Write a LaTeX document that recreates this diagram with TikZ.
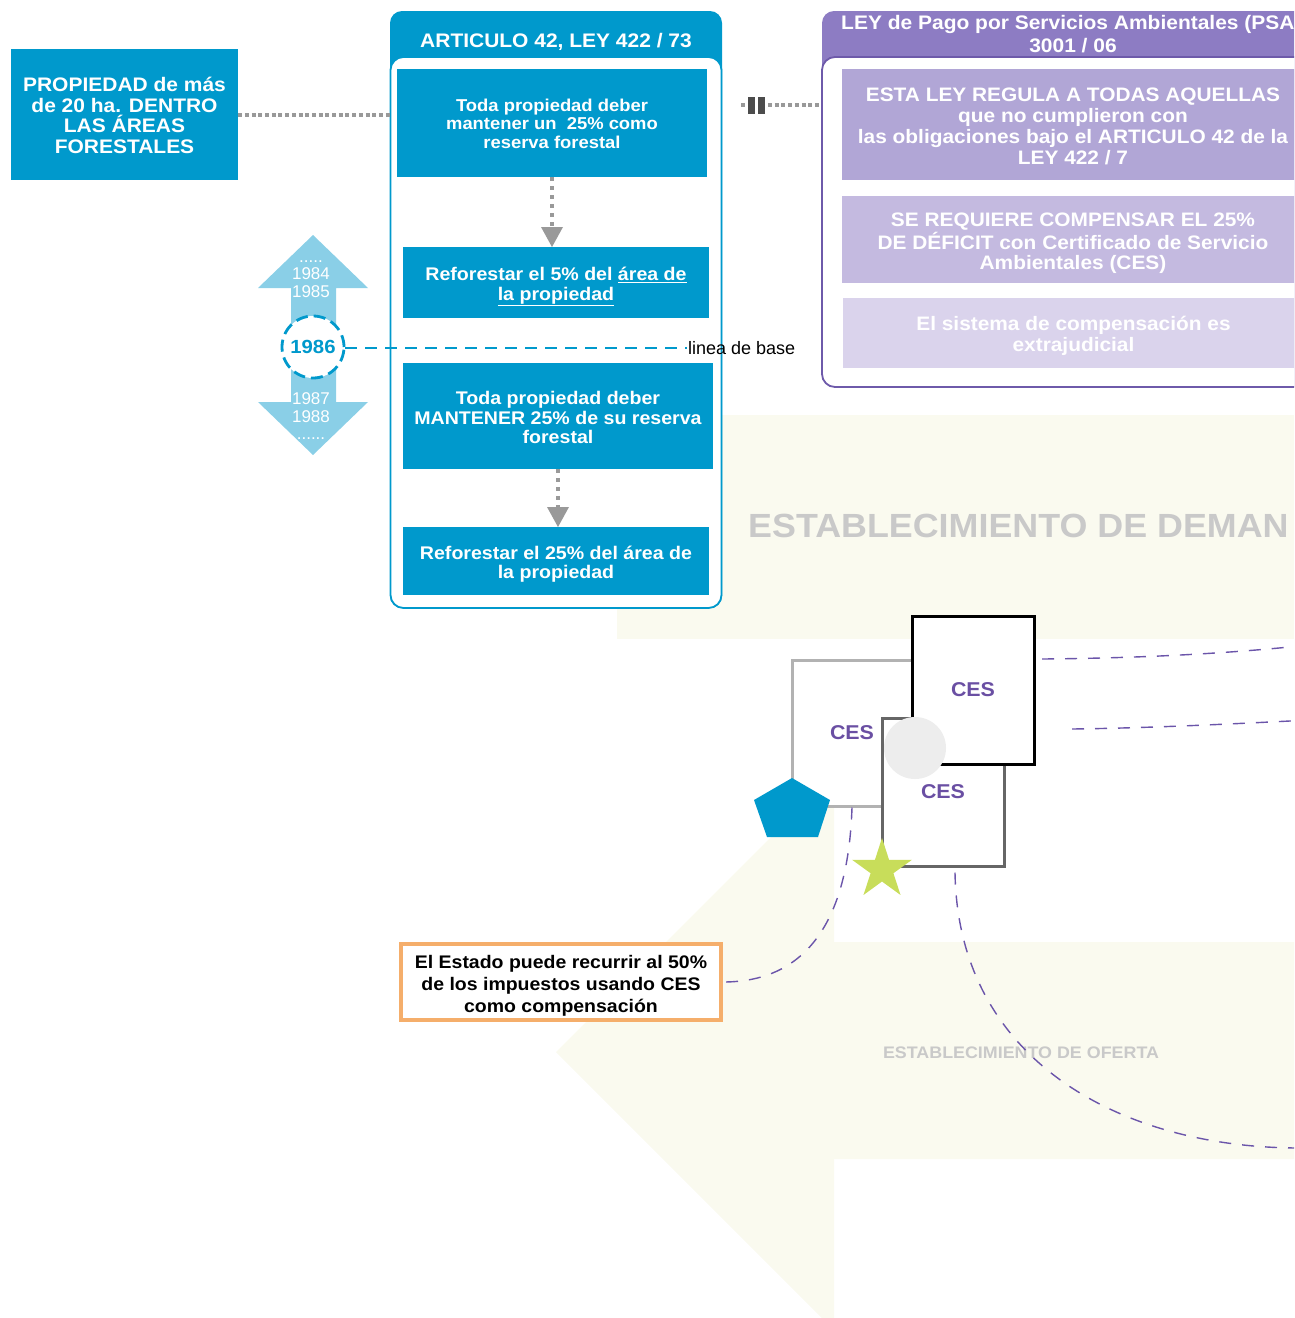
\documentclass[tikz,border=0pt]{standalone}
\usepackage{fontspec}
\setmainfont{Liberation Sans}[BoldFeatures={FakeStretch=1.07}]
\usetikzlibrary{calc}
\definecolor{bl}{HTML}{0099CC}
\definecolor{lbl}{HTML}{8ACFE7}
\definecolor{pu}{HTML}{8D7CC3}
\definecolor{pu1}{HTML}{B1A6D6}
\definecolor{pu2}{HTML}{C4BAE0}
\definecolor{pu3}{HTML}{DAD3EC}
\definecolor{puline}{HTML}{6E5AAA}
\definecolor{dashpu}{HTML}{6B55AA}
\definecolor{cream}{HTML}{FAFAEF}
\definecolor{cestxt}{HTML}{6A4FA3}
\definecolor{org}{HTML}{F5AE6B}
\definecolor{starc}{HTML}{C8DD5A}
\definecolor{dotgray}{HTML}{999999}
\definecolor{txtgray}{HTML}{C9C9C9}
\definecolor{circgray}{HTML}{EDEDED}
\newcommand\myfs[2]{\fontsize{#1}{#2}\selectfont}
\begin{document}
\begin{tikzpicture}[x=1pt,y=-1pt,
  bluebox/.style={fill=bl, inner sep=0pt},
  wtxt/.style={text=white, align=center, inner sep=0pt},
  pubox/.style={inner sep=0pt},
  putxt/.style={text=white, align=center, inner sep=0pt, font=\myfs{19.5}{21}\bfseries},
  yr/.style={text=white, inner sep=0pt, font=\myfs{17}{17}},
  dotline/.style={draw=dotgray, line width=4pt, dash pattern=on 4pt off 2.7pt},
  dotv/.style={draw=dotgray, line width=3.5pt, dash pattern=on 3.5pt off 5.5pt},
  pudash/.style={draw=dashpu, line width=1.4pt, dash pattern=on 12pt off 11pt},
  cesbox/.style={fill=white, line width=3pt, inner sep=0pt, text=cestxt, font=\myfs{20}{20}\bfseries}
]
\useasboundingbox (0,0) rectangle (1294,1318);
\clip (0,0) rectangle (1294,1318);

% background cream shapes
\fill[cream] (617,415) rectangle (1294,639);
\fill[cream] (556,1052) -- (834,774) -- (834,942) -- (1300,942) -- (1300,1159) -- (834,1159) -- (834,1330) -- cycle;
\node[anchor=base west, inner sep=0pt, text=txtgray, font=\myfs{33.5}{36}\bfseries] (dem) at (748,537) {ESTABLECIMIENTO DE DEMAN};
\node[anchor=base, inner sep=0pt, text=txtgray, font=\myfs{16.7}{18}\bfseries] (ofe) at (1021,1058) {ESTABLECIMIENTO DE OFERTA};

% left property box
\node[bluebox, minimum width=227pt, minimum height=131pt] (prop) at (124.5,114.5) {};
\node[wtxt, font=\myfs{19.6}{20.7}\bfseries] (propt) at (124.5,115.5)
  {PROPIEDAD de más\\de 20 ha. DENTRO\\LAS ÁREAS\\FORESTALES};

% article container
\node[fill=bl, rounded corners=12pt, minimum width=332pt, minimum height=597pt, inner sep=0pt] (art) at (556,309.5) {};
\node[fill=white, draw=bl, line width=1.8pt, rounded corners=13pt, minimum width=331pt, minimum height=551pt, inner sep=0pt] (artin) at (556,332.5) {};
\node[text=white, inner sep=0pt, font=\myfs{19.6}{20}\bfseries] (artt) at (556,42) {ARTICULO 42, LEY 422 / 73};

\node[bluebox, minimum width=310pt, minimum height=108pt] (ba) at (552,123) {};
\node[wtxt, font=\myfs{17.2}{18.5}\bfseries] (bat) at (552,123.5)
  {Toda propiedad deber\\mantener un\ \ 25\% como\\reserva forestal};
\node[bluebox, minimum width=306pt, minimum height=71pt] (bb) at (556,282.5) {};
\node[wtxt, font=\myfs{18.3}{20}\bfseries] (bbt) at (556,286.5)
  {Reforestar el 5\% del \underline{área de}\\\underline{la propiedad}};
\node[bluebox, minimum width=310pt, minimum height=106pt] (bc) at (558,416) {};
\node[wtxt, font=\myfs{18.3}{19.5}\bfseries] (bct) at (558,417.5)
  {Toda propiedad deber\\MANTENER 25\% de su reserva\\forestal};
\node[bluebox, minimum width=306pt, minimum height=68pt] (bd) at (556,561) {};
\node[wtxt, font=\myfs{18.3}{19.5}\bfseries] (bdt) at (556,564)
  {Reforestar el 25\% del área de\\la propiedad};

% dotted arrows inside article
\draw[dotv] (ba.south -| 552,0) -- (552,227);
\fill[dotgray] (552,247) -- (541,227) -- (563,227) -- cycle;
\draw[dotv] (bc.south -| 558,0) -- (558,507);
\fill[dotgray] (558,527) -- (547,507) -- (569,507) -- cycle;

% dotted connector property -> article
\draw[dotline] (prop.east) -- (prop.east -| art.west);

% double arrow with years
\fill[lbl] (313,235) -- (368,288) -- (336,288) -- (336,402) -- (368,402) -- (313,455) -- (258,402) -- (291,402) -- (291,288) -- (258,288) -- cycle;
\node[yr, anchor=base] (ydt) at (311,262) {.....};
\node[yr] (y84) at (311,273.7) {1984};
\node[yr] (y85) at (311,291.3) {1985};
\node[yr] (y87) at (311,398.3) {1987};
\node[yr] (y88) at (311,416.7) {1988};
\node[yr, anchor=base] (ydb) at (311,439) {......};

% baseline
\node[anchor=west, inner sep=1pt, font=\myfs{18}{18}] (lb) at (687,348) {linea de base};
\node[circle, draw=bl, dash pattern=on 12pt off 6pt, line width=2.8pt, fill=white, minimum size=62pt, inner sep=0pt, text=bl, font=\myfs{19}{19}\bfseries] (c86) at (313,347) {1986};
\draw[bl, line width=2.5pt, dash pattern=on 12pt off 8pt] (c86.east |- 0,348) -- (lb.west);

% purple container
\node[fill=pu, rounded corners=12pt, minimum width=508pt, minimum height=376pt, inner sep=0pt] (psa) at (1076,199) {};
\node[fill=white, draw=puline, line width=1.8pt, rounded corners=13pt, minimum width=508pt, minimum height=330pt, inner sep=0pt] (psain) at (1076,222) {};
\node[anchor=west, text=white, inner sep=0pt, font=\myfs{19.6}{20}\bfseries] (psat1) at (841,24) {LEY de Pago por Servicios Ambientales (PSA};
\node[text=white, inner sep=0pt, font=\myfs{19.6}{20}\bfseries] (psat2) at (1073,46) {3001 / 06};

\node[pubox, fill=pu1, minimum width=462pt, minimum height=111pt] (p1) at (1073,124.5) {};
\node[putxt] (p1t) at (1073,126)
  {ESTA LEY REGULA A TODAS AQUELLAS\\que no cumplieron con\\las obligaciones bajo el ARTICULO 42 de la\\LEY 422 / 7};
\node[pubox, fill=pu2, minimum width=462pt, minimum height=87pt] (p2) at (1073,239.5) {};
\node[putxt, font=\myfs{19.5}{20.5}\bfseries] (p2t) at (1073,243.5)
  {SE REQUIERE COMPENSAR EL 25\%\\DE DÉFICIT con Certificado de Servicio\\Ambientales (CES)};
\node[pubox, fill=pu3, minimum width=461pt, minimum height=70pt] (p3) at (1073.5,333) {};
\node[putxt] (p3t) at (1073.5,336)
  {El sistema de compensación es\\extrajudicial};

% connector article -> purple
\coordinate (m1) at (768,105);
\fill[dotgray] (741,103) rectangle (745,107);
\fill[black!70] (748,97) rectangle (755,114);
\fill[black!70] (758,97) rectangle (765,114);
\draw[dotline] (m1) -- (m1 -| psain.west);

% CES boxes
\node[cesbox, draw=black!30, minimum width=120pt, minimum height=146pt] (ces1) at (852,733) {CES};
\node[cesbox, draw=black!60, minimum width=122pt, minimum height=148pt] (ces3) at (943,792) {CES};
\node[cesbox, draw=black, minimum width=122pt, minimum height=148pt] (ces2) at (973,690) {CES};
\fill[circgray] (915,748) circle[radius=31pt];

% pentagon and star
\fill[bl] (792,778) -- (830,800) -- (818,837) -- (767,837) -- (754,800) -- cycle;
\fill[starc] (882,838) -- (889.05,859.79) -- (911.96,859.77) -- (893.41,873.21) -- (900.52,894.98)
  -- (882,881.5) -- (863.48,894.98) -- (870.59,873.21) -- (852.04,859.77) -- (874.95,859.79) -- cycle;

% orange box
\node[fill=white, draw=org, line width=4pt, minimum width=320pt, minimum height=76pt, inner sep=0pt] (ob) at (561,982) {};
\node[align=center, inner sep=0pt, font=\myfs{18.2}{22}\bfseries] (obt) at (561,986)
  {El Estado puede recurrir al 50\%\\de los impuestos usando CES\\como compensación};

% dashed connectors
\coordinate (d1s) at (1042,659);
\coordinate (d1e) at (1300,646);
\coordinate (d2s) at (1072,729);
\coordinate (d2e) at (1300,720.5);
\coordinate (d4e) at (1300,1148);
\draw[pudash] (d1s) .. controls (1150,658) and (1230,653) .. (d1e);
\draw[pudash] (d2s) .. controls (1150,728) and (1230,724) .. (d2e);
\draw[pudash] (ces1.south) .. controls (848,930) and (800,982) .. (ob.east);
\draw[pudash] ([xshift=12pt,yshift=-5pt]ces3.south) .. controls (958,1060) and (1120,1148) .. (d4e);
\end{tikzpicture}
\end{document}
